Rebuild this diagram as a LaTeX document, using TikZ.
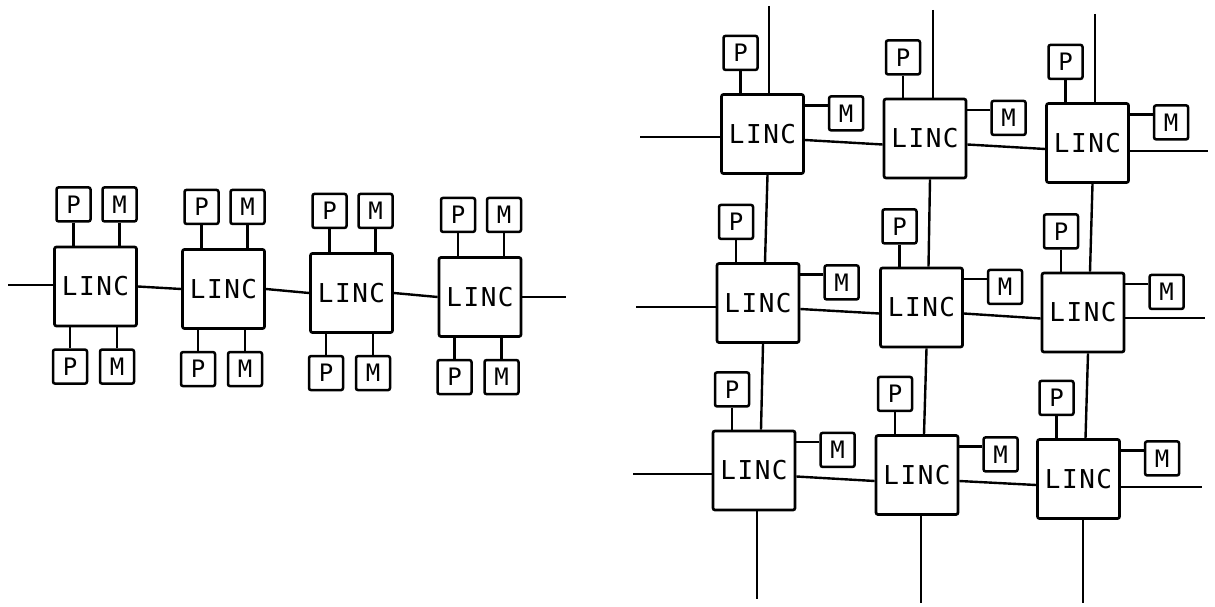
\documentclass[tikz,border=0pt]{standalone}
\usepackage{fontspec}
\setmonofont{DejaVu Sans Mono}
\usetikzlibrary{positioning}

\begin{document}
\begin{tikzpicture}[
  x=1pt, y=-1pt,
  linc/.style={draw, line width=2.7pt, rounded corners=2pt, inner sep=0pt, minimum width=82pt, minimum height=79pt, font=\ttfamily\fontsize{26}{26}\selectfont\addfontfeature{LetterSpace=6}},
  pbox/.style={draw, line width=2.5pt, rounded corners=2pt, inner sep=0pt, minimum width=34pt, minimum height=34pt, font=\ttfamily\fontsize{24}{24}\selectfont},
  wire/.style={line width=2.4pt}
]
\useasboundingbox (0,0) rectangle (1215,607);

% linear chain of LINCs
\foreach \n/\x/\y in {1/95.5/286.5, 2/223.5/289, 3/351.5/293, 4/480/297} {
  \node[linc] (C\n) at (\x,\y) {LINC};
  \node[pbox, above=23pt of C\n.north, xshift=-22pt] (CPt\n) {P};
  \node[pbox, above=23pt of C\n.north, xshift=24pt] (CMt\n) {M};
  \node[pbox, below=21pt of C\n.south, xshift=-25.5pt] (CPb\n) {P};
  \node[pbox, below=21pt of C\n.south, xshift=21.5pt] (CMb\n) {M};
  \draw[wire] (CPt\n.south) -- (CPt\n.south |- C\n.north);
  \draw[wire] (CMt\n.south) -- (CMt\n.south |- C\n.north);
  \draw[wire] (CPb\n.north) -- (CPb\n.north |- C\n.south);
  \draw[wire] (CMb\n.north) -- (CMb\n.north |- C\n.south);
}
\coordinate (cl) at (8,285);
\coordinate (cr) at (566,297);
\draw[wire] (cl) -- (cl -| C1.west);
\draw[wire] (C1.east) -- (C2.west);
\draw[wire] (C2.east) -- (C3.west);
\draw[wire] (C3.east) -- (C4.west);
\draw[wire] (cr -| C4.east) -- (cr);

% 3x3 grid of LINCs
\foreach \n/\x/\y in {11/762.5/134, 12/925/138.5, 13/1087.5/143,
                      21/758/303, 22/921.5/307.5, 23/1083/312.5,
                      31/754/470.5, 32/917/475, 33/1078.5/479} {
  \node[linc] (G\n) at (\x,\y) {LINC};
  \node[pbox, above=22pt of G\n.north, xshift=-22pt] (GP\n) {P};
  \node[pbox, anchor=north west] (GM\n) at ([xshift=23pt, yshift=-2pt]G\n.north east) {M};
  \draw[wire] (GP\n.south) -- (GP\n.south |- G\n.north);
  \coordinate (gm\n) at ([yshift=-12.5pt]G\n.north east);
  \draw[wire] (gm\n) -- (gm\n -| GM\n.west);
}

% rows
\foreach \row/\xl/\yl/\xr/\yr in {1/640/137/1208/151, 2/636/307/1205/318, 3/633/474/1202/487} {
  \coordinate (gl\row) at (\xl,\yl);
  \coordinate (gr\row) at (\xr,\yr);
  \draw[wire] (gl\row) -- (gl\row -| G\row1.west);
  \draw[wire] ([yshift=-6pt]G\row1.east) -- ([yshift=-6pt]G\row2.west);
  \draw[wire] ([yshift=-6pt]G\row2.east) -- ([yshift=-6pt]G\row3.west);
  \draw[wire] (gr\row -| G\row3.east) -- (gr\row);
}

% columns
\foreach \col/\xt/\yt/\xb/\yb in {1/769/6/757/599, 2/933/10/921/603, 3/1095/14/1083/603} {
  \coordinate (gt\col) at (\xt,\yt);
  \coordinate (gb\col) at (\xb,\yb);
  \draw[wire] (gt\col) -- (gt\col |- G1\col.north);
  \draw[wire] ([xshift=5pt]G1\col.south) -- ([xshift=7pt]G2\col.north);
  \draw[wire] ([xshift=5pt]G2\col.south) -- ([xshift=7pt]G3\col.north);
  \draw[wire] (gb\col |- G3\col.south) -- (gb\col);
}
\end{tikzpicture}
\end{document}
